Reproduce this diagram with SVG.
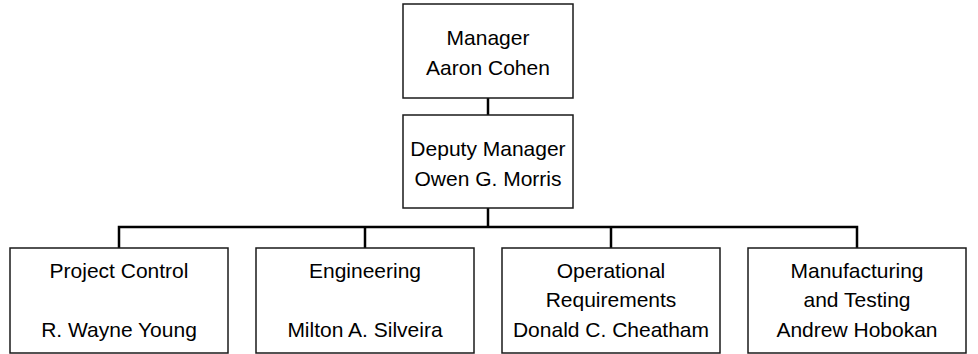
<svg xmlns="http://www.w3.org/2000/svg" width="978" height="354" viewBox="0 0 978 354">
<style>
.box{fill:#fff;stroke:#1a1a1a;stroke-width:1.5}
.t{font-family:"Liberation Sans",Arial,sans-serif;font-size:21px;fill:#000;text-anchor:middle}
.c{fill:none;stroke:#000;stroke-width:2.5}
</style>
<rect width="978" height="354" fill="#fff"/>
<g id="connectors">
<line class="c" x1="488" y1="98" x2="488" y2="115"/>
<line class="c" x1="488" y1="208" x2="488" y2="227"/>
<polyline class="c" points="119,248 119,227 857,227 857,248"/>
<line class="c" x1="365" y1="227" x2="365" y2="248"/>
<line class="c" x1="611" y1="227" x2="611" y2="248"/>
</g>
<g id="manager">
<rect class="box" x="403" y="4" width="170" height="94"/>
<text class="t" x="488" y="45">Manager</text>
<text class="t" x="488" y="75">Aaron Cohen</text>
</g>
<g id="deputy">
<rect class="box" x="403" y="115" width="170" height="93"/>
<text class="t" x="488" y="156">Deputy Manager</text>
<text class="t" x="488" y="186">Owen G. Morris</text>
</g>
<g id="project-control">
<rect class="box" x="10" y="248" width="218" height="105"/>
<text class="t" x="119" y="278">Project Control</text>
<text class="t" x="119" y="337">R. Wayne Young</text>
</g>
<g id="engineering">
<rect class="box" x="256" y="248" width="218" height="105"/>
<text class="t" x="365" y="278">Engineering</text>
<text class="t" x="365" y="337">Milton A. Silveira</text>
</g>
<g id="operational-requirements">
<rect class="box" x="502" y="248" width="218" height="105"/>
<text class="t" x="611" y="278">Operational</text>
<text class="t" x="611" y="307">Requirements</text>
<text class="t" x="611" y="337">Donald C. Cheatham</text>
</g>
<g id="manufacturing">
<rect class="box" x="748" y="248" width="218" height="105"/>
<text class="t" x="857" y="278">Manufacturing</text>
<text class="t" x="857" y="307">and Testing</text>
<text class="t" x="857" y="337">Andrew Hobokan</text>
</g>
</svg>
